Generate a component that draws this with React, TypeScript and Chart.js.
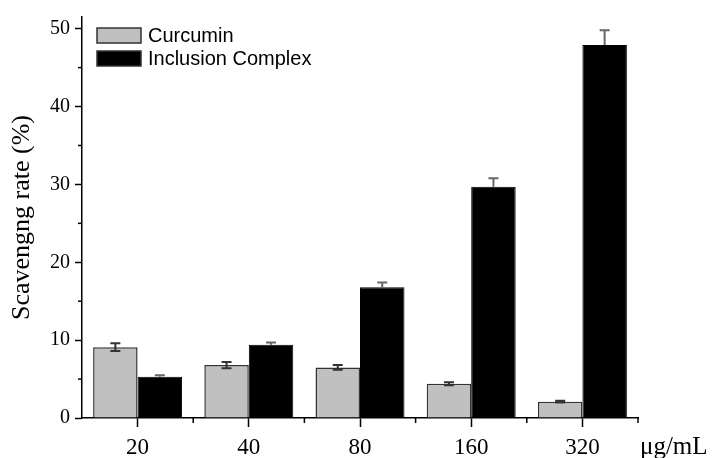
import React, { useEffect, useRef } from 'react';
import { Chart, registerables } from 'chart.js';

Chart.register(...registerables);

const categories = ['20', '40', '80', '160', '320'];
const curcumin = [9.1, 6.8, 6.5, 4.4, 2.1];
const curcuminErr = [0.5, 0.4, 0.3, 0.2, 0.1];
const complex = [5.3, 9.4, 16.8, 29.7, 47.9];
const complexErr = [0.2, 0.3, 0.6, 1.1, 1.9];
const yTicks = [0, 10, 20, 30, 40, 50];
const yMinorTicks = [5, 15, 25, 35, 45];
const seriesNames = ['Curcumin', 'Inclusion Complex'];
const unitLabel = 'μg/mL';
const yTitle = 'Scavengng rate (%)';

const SERIF = '"Liberation Serif", "Times New Roman", serif';
const SANS = '"Liberation Sans", Arial, sans-serif';

const extrasPlugin = {
  id: 'extras',
  afterDatasetsDraw(chart: any) {
    const ctx = chart.ctx;
    const errs = [curcuminErr, complexErr];
    const colors = ['#333', '#666'];
    ctx.save();
    chart.data.datasets.forEach((ds: any, di: number) => {
      const meta = chart.getDatasetMeta(di);
      const y = chart.scales.y;
      meta.data.forEach((bar: any, i: number) => {
        const v = ds.data[i];
        const e = errs[di][i];
        const x = bar.x;
        const yt = y.getPixelForValue(v + e);
        const yb = di === 0 ? y.getPixelForValue(v - e) : y.getPixelForValue(v);
        ctx.strokeStyle = colors[di];
        ctx.lineWidth = 2;
        ctx.beginPath();
        ctx.moveTo(x, yt);
        ctx.lineTo(x, yb);
        ctx.moveTo(x - 5, yt);
        ctx.lineTo(x + 5, yt);
        if (di === 0) {
          ctx.moveTo(x - 5, yb);
          ctx.lineTo(x + 5, yb);
        }
        ctx.stroke();
      });
    });
    ctx.restore();
  },
  afterDraw(chart: any) {
    const ctx = chart.ctx;
    const area = chart.chartArea;
    const xs = chart.scales.x;
    const ys = chart.scales.y;
    ctx.save();
    ctx.strokeStyle = '#000';
    ctx.lineWidth = 1.5;
    yMinorTicks.forEach((v) => {
      const py = ys.getPixelForValue(v);
      ctx.beginPath();
      ctx.moveTo(area.left - 4, py);
      ctx.lineTo(area.left, py);
      ctx.stroke();
    });
    const step = xs.getPixelForValue(1) - xs.getPixelForValue(0);
    for (let i = 0; i < categories.length; i++) {
      const px = xs.getPixelForValue(i) + step / 2;
      ctx.beginPath();
      ctx.moveTo(px, area.bottom);
      ctx.lineTo(px, area.bottom + 5);
      ctx.stroke();
    }
    ctx.fillStyle = '#000';
    ctx.font = '25px ' + SERIF;
    ctx.textAlign = 'left';
    ctx.textBaseline = 'middle';
    ctx.fillText(unitLabel, area.right + 2, area.bottom + 29);
    const colors = ['#c0c0c0', '#000'];
    seriesNames.forEach((name, i) => {
      const bx = area.left + 15;
      const by = area.top + 11 + i * 23;
      ctx.fillStyle = colors[i];
      ctx.fillRect(bx, by, 44, 15);
      ctx.strokeStyle = '#333';
      ctx.lineWidth = 1.5;
      ctx.strokeRect(bx, by, 44, 15);
      ctx.fillStyle = '#000';
      ctx.font = '20px ' + SANS;
      ctx.textAlign = 'left';
      ctx.textBaseline = 'middle';
      ctx.fillText(name, bx + 51, by + 8);
    });
    ctx.restore();
  },
};

export default function App() {
  const ref = useRef<HTMLCanvasElement>(null);
  useEffect(() => {
    document.body.style.margin = '0';
    const chart = new Chart(ref.current!, {
      type: 'bar',
      data: {
        labels: categories,
        datasets: [
          {
            label: seriesNames[0],
            data: curcumin,
            backgroundColor: '#c0c0c0',
            borderColor: '#333',
            borderWidth: 1.5,
            categoryPercentage: 0.8,
            barPercentage: 1,
          },
          {
            label: seriesNames[1],
            data: complex,
            backgroundColor: '#000',
            borderColor: '#000',
            borderWidth: 1,
            categoryPercentage: 0.8,
            barPercentage: 1,
          },
        ],
      },
      options: {
        responsive: false,
        animation: false,
        layout: { padding: { top: 15, right: 76, left: 0, bottom: 0 } },
        plugins: { legend: { display: false }, tooltip: { enabled: false } },
        scales: {
          x: {
            border: { display: true, color: '#000', width: 1.5 },
            grid: { display: true, drawOnChartArea: false, drawTicks: true, tickLength: 9, tickColor: '#000', tickWidth: 1.5, offset: false },
            ticks: { color: '#000', font: { family: SERIF, size: 23 }, padding: 7, maxRotation: 0 },
            afterFit: (s: any) => { s.height = 40; },
          },
          y: {
            min: 0,
            max: 51.5,
            afterBuildTicks: (s: any) => { s.ticks = yTicks.map((v) => ({ value: v })); },
            border: { display: true, color: '#000', width: 1.5 },
            grid: { display: true, drawOnChartArea: false, drawTicks: true, tickLength: 7, tickColor: '#000', tickWidth: 1.5 },
            ticks: { color: '#000', font: { family: SERIF, size: 20 }, padding: 5 },
            title: { display: true, text: yTitle, color: '#000', font: { family: SERIF, size: 26 }, padding: { top: 7, bottom: 0 } },
            afterFit: (s: any) => { s.width = 82; },
          },
        },
      },
      plugins: [extrasPlugin],
    });
    return () => chart.destroy();
  }, []);
  return <canvas ref={ref} width={714} height={458} style={{ display: 'block' }} />;
}
